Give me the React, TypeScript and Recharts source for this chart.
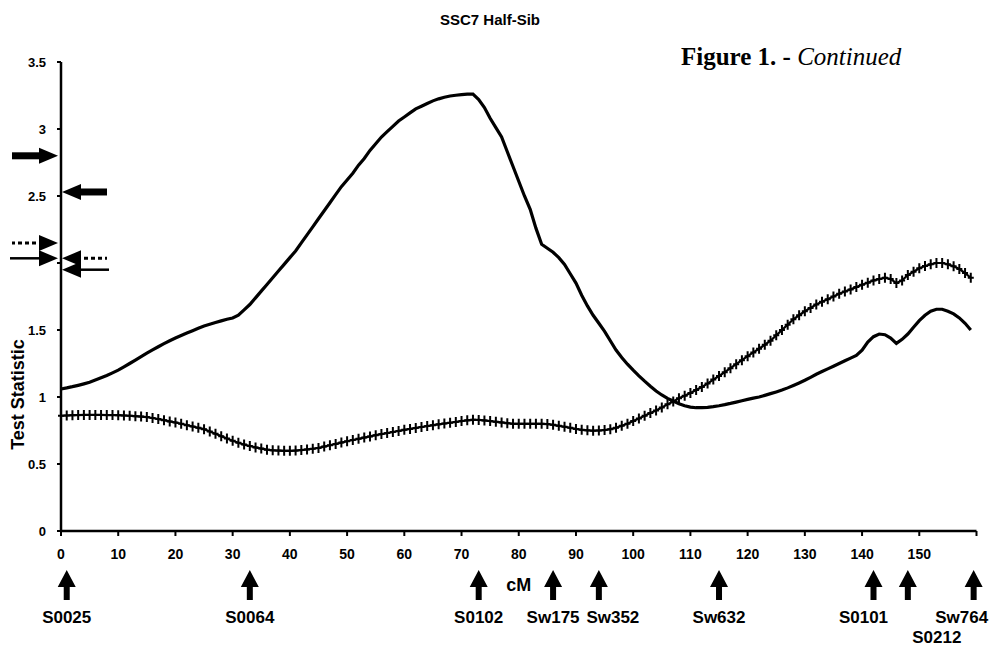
import React from 'react';
import { LineChart, Line, XAxis, YAxis, ReferenceDot } from 'recharts';

// Map position along SSC7 (cM), one row per centimorgan
const POSITIONS_CM: number[] = Array.from({ length: 160 }, (_, i) => i);

// Test statistic, solid curve
const SOLID_STAT: number[] = [
  1.06, 1.068, 1.077, 1.087, 1.098, 1.11, 1.126, 1.143, 1.16, 1.18,
  1.2, 1.225, 1.25, 1.276, 1.302, 1.327, 1.351, 1.375, 1.398, 1.42,
  1.44, 1.459, 1.477, 1.495, 1.513, 1.53, 1.543, 1.556, 1.568, 1.58,
  1.59, 1.61, 1.65, 1.69, 1.74, 1.79, 1.84, 1.89, 1.94, 1.99,
  2.04, 2.09, 2.15, 2.21, 2.27, 2.33, 2.39, 2.45, 2.51, 2.57,
  2.62, 2.67, 2.73, 2.78, 2.84, 2.89, 2.94, 2.98, 3.02, 3.06,
  3.09, 3.12, 3.15, 3.17, 3.19, 3.21, 3.225, 3.237, 3.246, 3.252,
  3.256, 3.26, 3.26, 3.22, 3.16, 3.08, 3.01, 2.94, 2.83, 2.72,
  2.61, 2.5, 2.4, 2.26, 2.14, 2.11, 2.08, 2.04, 1.99, 1.92,
  1.85, 1.76, 1.68, 1.61, 1.55, 1.49, 1.42, 1.35, 1.295, 1.245,
  1.2, 1.158, 1.118, 1.08, 1.045, 1.015, 0.99, 0.97, 0.95, 0.935,
  0.925, 0.92, 0.92, 0.922, 0.928, 0.935, 0.943, 0.952, 0.962, 0.972,
  0.982, 0.992, 1.0, 1.012, 1.025, 1.038, 1.052, 1.068, 1.086, 1.105,
  1.125, 1.147, 1.17, 1.19, 1.21, 1.23, 1.25, 1.27, 1.29, 1.31,
  1.35, 1.41, 1.45, 1.47, 1.465, 1.44, 1.4, 1.43, 1.47, 1.52,
  1.57, 1.61, 1.64, 1.655, 1.655, 1.64, 1.62, 1.59, 1.55, 1.5,
];

// Test statistic, curve drawn with "+" symbols
const CROSS_STAT: number[] = [
  0.86, 0.862, 0.864, 0.865, 0.866, 0.866, 0.866, 0.866, 0.865, 0.865,
  0.864, 0.862, 0.86, 0.857, 0.854, 0.85, 0.843, 0.835, 0.827, 0.818,
  0.81, 0.8, 0.79, 0.78, 0.77, 0.76, 0.743, 0.726, 0.708, 0.69,
  0.673, 0.658, 0.645, 0.634, 0.624, 0.615, 0.607, 0.602, 0.6, 0.598,
  0.598, 0.6, 0.604, 0.609, 0.614, 0.62, 0.63, 0.64, 0.65, 0.66,
  0.67, 0.679, 0.688, 0.697, 0.706, 0.715, 0.723, 0.731, 0.739, 0.747,
  0.755, 0.762, 0.769, 0.776, 0.783, 0.79, 0.796, 0.802, 0.808, 0.814,
  0.82, 0.826, 0.83, 0.829, 0.825, 0.82, 0.815, 0.81, 0.805, 0.8,
  0.8, 0.8, 0.8, 0.8, 0.8, 0.798, 0.792, 0.785, 0.778, 0.77,
  0.762, 0.755, 0.751, 0.749, 0.75, 0.753, 0.76, 0.77, 0.785, 0.8,
  0.82, 0.84, 0.86, 0.88, 0.9, 0.922, 0.945, 0.967, 0.99, 1.01,
  1.03, 1.052, 1.075, 1.1, 1.13, 1.157, 1.185, 1.215, 1.245, 1.275,
  1.305, 1.333, 1.36, 1.39, 1.42, 1.46, 1.5, 1.54, 1.58, 1.61,
  1.64, 1.665, 1.69, 1.71, 1.73, 1.75, 1.77, 1.787, 1.803, 1.82,
  1.837, 1.853, 1.87, 1.88, 1.89, 1.88, 1.85, 1.87, 1.91, 1.935,
  1.96, 1.978, 1.99, 2.0, 2.0, 1.99, 1.975, 1.955, 1.925, 1.89,
];

const X_TICKS: number[] = [0, 10, 20, 30, 40, 50, 60, 70, 80, 90, 100, 110, 120, 130, 140, 150, 160];
const Y_TICKS: number[] = [0, 0.5, 1, 1.5, 2, 2.5, 3, 3.5];

// Microsatellite markers along the linkage map
const MARKER_NAMES: string[] = ['S0025', 'S0064', 'S0102', 'Sw175', 'Sw352', 'Sw632', 'S0101', 'S0212', 'Sw764'];
const MARKER_CM: number[] = [1, 33, 73, 86, 94, 115, 142, 148, 159.5];

// Significance thresholds marked beside the y axis
const THRESHOLD_VALUES: number[] = [2.8, 2.53, 2.15, 2.035, 2.035, 1.95];
const THRESHOLD_SIDES: ('left' | 'right')[] = ['left', 'right', 'left', 'left', 'right', 'right'];
const THRESHOLD_KINDS: ('heavy' | 'dashed' | 'thin')[] = ['heavy', 'heavy', 'dashed', 'thin', 'dashed', 'thin'];

// Label nudges so neighbouring marker names do not collide
const LABEL_SHIFT: Record<string, { dx: number; row: number }> = {
  Sw352: { dx: 14, row: 0 },
  S0101: { dx: -10, row: 0 },
  S0212: { dx: 29, row: 1 },
  Sw764: { dx: -12, row: 0 },
};

const SANS = '"Liberation Sans", Arial, sans-serif';
const SERIF = '"Liberation Serif", "Times New Roman", serif';

const plusDot = (props: any) => {
  const { cx, cy, index } = props;
  if (cx == null || cy == null) return <g key={`pd-${index}`} />;
  return (
    <path
      key={`pd-${index}`}
      d={`M${cx - 3},${cy}H${cx + 3}M${cx},${cy - 5}V${cy + 5}`}
      stroke="#000"
      strokeWidth={2}
      fill="none"
    />
  );
};

const markerShape = (name: string) => (props: any) => {
  const { cx, cy } = props;
  const shift = LABEL_SHIFT[name] || { dx: 0, row: 0 };
  const tip = cy + 39;
  const base = cy + 56;
  const tail = cy + 69;
  return (
    <g>
      <path
        d={`M${cx},${tip}L${cx + 9},${base}H${cx + 3}V${tail}H${cx - 3}V${base}H${cx - 9}Z`}
        fill="#000"
      />
      <text
        x={cx + shift.dx}
        y={cy + 92 + shift.row * 20}
        textAnchor="middle"
        fontFamily={SANS}
        fontWeight="bold"
        fontSize={17}
        fill="#000"
      >
        {name}
      </text>
    </g>
  );
};

const thresholdShape = (side: 'left' | 'right', kind: 'heavy' | 'dashed' | 'thin') => (props: any) => {
  const { cx, cy } = props;
  const dir = side === 'left' ? 1 : -1; // arrow points toward the axis
  const tipX = side === 'left' ? cx - 3 : cx + 1;
  const headLen = 19;
  const headHalf = 8;
  const baseX = tipX - dir * headLen;
  const shaftEnd = side === 'left' ? cx - 49 : cx + 46;
  const head = (
    <path
      d={`M${tipX},${cy}L${baseX},${cy - headHalf}L${baseX},${cy + headHalf}Z`}
      fill="#000"
    />
  );
  let shaft;
  if (kind === 'heavy') {
    shaft = <line x1={baseX} y1={cy} x2={shaftEnd} y2={cy} stroke="#000" strokeWidth={7} />;
  } else if (kind === 'dashed') {
    shaft = (
      <line x1={baseX - dir * 3} y1={cy} x2={shaftEnd} y2={cy} stroke="#000" strokeWidth={3} strokeDasharray="4 3" />
    );
  } else {
    shaft = <line x1={baseX} y1={cy} x2={shaftEnd - dir * 2} y2={cy} stroke="#000" strokeWidth={2.5} />;
  }
  return (
    <g>
      {shaft}
      {head}
    </g>
  );
};

const yAxisTitle = (props: any) => {
  const { x, y, height } = props.viewBox;
  const cx = x + 18;
  const cy = y + height * 0.709;
  return (
    <text
      x={cx}
      y={cy}
      transform={`rotate(-90 ${cx} ${cy})`}
      textAnchor="middle"
      dominantBaseline="central"
      fontFamily={SANS}
      fontWeight="bold"
      fontSize={18}
      fill="#000"
    >
      Test Statistic
    </text>
  );
};

const xAxisTitle = (props: any) => {
  const { x, y, width } = props.viewBox;
  return (
    <text
      x={x + width / 2}
      y={y + 60}
      textAnchor="middle"
      fontFamily={SANS}
      fontWeight="bold"
      fontSize={18}
      fill="#000"
    >
      cM
    </text>
  );
};

export default function App() {
  const rows = POSITIONS_CM.map((cm, i) => ({ cm, solid: SOLID_STAT[i], cross: CROSS_STAT[i] }));

  return (
    <div style={{ position: 'absolute', left: 0, top: 0, width: 993, height: 647, background: '#fff' }}>
      <LineChart width={993} height={647} data={rows} margin={{ top: 62, right: 16.5, bottom: 0, left: 0 }}>
        <XAxis
          dataKey="cm"
          type="number"
          domain={[0, 160]}
          ticks={X_TICKS}
          interval={0}
          height={116}
          tickSize={5}
          tickMargin={13}
          tickFormatter={(v: number) => (v === 160 ? '' : String(v))}
          tick={{ fill: '#000', fontSize: 14, fontWeight: 'bold', fontFamily: SANS }}
          axisLine={{ stroke: '#000', strokeWidth: 2.5 }}
          tickLine={{ stroke: '#000', strokeWidth: 2 }}
          label={{ content: xAxisTitle }}
        />
        <YAxis
          type="number"
          domain={[0, 3.5]}
          ticks={Y_TICKS}
          interval={0}
          width={61}
          tickSize={4}
          tickMargin={11}
          tickFormatter={(v: number) => (v === 2 ? '' : String(v))}
          tick={{ fill: '#000', fontSize: 13, fontWeight: 'bold', fontFamily: SANS }}
          axisLine={{ stroke: '#000', strokeWidth: 2.5 }}
          tickLine={{ stroke: '#000', strokeWidth: 2 }}
          label={{ content: yAxisTitle }}
        />
        <Line
          dataKey="cross"
          type="linear"
          stroke="#000"
          strokeWidth={2.2}
          dot={plusDot}
          activeDot={false}
          isAnimationActive={false}
        />
        <Line
          dataKey="solid"
          type="linear"
          stroke="#000"
          strokeWidth={3.2}
          dot={false}
          activeDot={false}
          isAnimationActive={false}
        />
        {THRESHOLD_VALUES.map((v, i) => (
          <ReferenceDot
            key={`thr-${i}`}
            x={0}
            y={v}
            r={0}
            ifOverflow="visible"
            shape={thresholdShape(THRESHOLD_SIDES[i], THRESHOLD_KINDS[i])}
          />
        ))}
        {MARKER_NAMES.map((name, i) => (
          <ReferenceDot
            key={`mk-${name}`}
            x={MARKER_CM[i]}
            y={0}
            r={0}
            ifOverflow="visible"
            shape={markerShape(name)}
          />
        ))}
      </LineChart>
      <svg
        width={993}
        height={647}
        style={{ position: 'absolute', left: 0, top: 0, pointerEvents: 'none' }}
      >
        <text x={490} y={25} textAnchor="middle" fontFamily={SANS} fontWeight="bold" fontSize={15} fill="#000">
          SSC7 Half-Sib
        </text>
        <text x={681} y={65} fontFamily={SERIF} fontSize={25} fill="#000">
          <tspan fontWeight="bold">Figure 1. - </tspan>
          <tspan fontStyle="italic">Continued</tspan>
        </text>
      </svg>
    </div>
  );
}
